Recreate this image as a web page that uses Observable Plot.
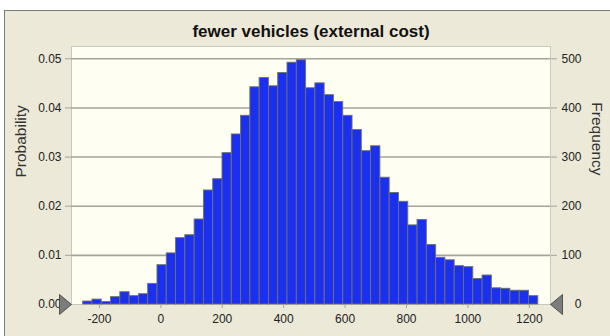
<!DOCTYPE html>
<html>
<head>
<meta charset="utf-8">
<script src="https://cdn.jsdelivr.net/npm/d3@7"></script>
<script src="https://cdn.jsdelivr.net/npm/@observablehq/plot@0.6"></script>
<style>
  html, body { margin: 0; padding: 0; background: #ffffff; }
  #panel { position: absolute; left: 4px; top: 10px; width: 620px; height: 340px;
           background: #ece9d8; border-left: 1px solid #7a7a78; border-top: 1px solid #7a7a78; }
  #chart { position: absolute; left: 0; top: 0; }
</style>
</head>
<body>
<div id="panel"></div>
<div id="chart"></div>
<script>
const title = "fewer vehicles (external cost)";
const leftLabel = "Probability";
const rightLabel = "Frequency";
const totalCount = 10000;
const binStart = -253;
const binWidth = 30.25;
const frequencies = [
  6, 10, 5, 15, 25, 17, 21, 42, 80, 104,
  135, 141, 173, 232, 255, 308, 346, 384, 442, 461,
  444, 471, 492, 497, 440, 450, 426, 412, 384, 355,
  312, 322, 258, 227, 209, 161, 172, 121, 95, 90,
  78, 76, 52, 59, 33, 32, 28, 28, 17
];
const xTicks = [-200, 0, 200, 400, 600, 800, 1000, 1200];
const yTicks = [0, 100, 200, 300, 400, 500];
const xDomain = [-291, 1269];
const yDomain = [0, 525];
const markerX = [-291, 1269];

const bins = frequencies.map((f, i) => ({
  x1: binStart + i * binWidth,
  x2: binStart + (i + 1) * binWidth,
  freq: f
}));

const triRight = { draw(ctx) { ctx.moveTo(-12, -10); ctx.lineTo(0, 0); ctx.lineTo(-12, 10); ctx.closePath(); } };
const triLeft  = { draw(ctx) { ctx.moveTo(12, -10); ctx.lineTo(0, 0); ctx.lineTo(12, 10); ctx.closePath(); } };

const chart = Plot.plot({
  width: 610,
  height: 336,
  marginLeft: 71,
  marginRight: 60,
  marginTop: 46,
  marginBottom: 32,
  style: { fontFamily: "'Liberation Sans', Arial, sans-serif", fontSize: "12px", background: "transparent", color: "#222" },
  x: { domain: xDomain },
  y: { domain: yDomain },
  marks: [
    Plot.frame({ fill: "#fefef3", stroke: "#c9c8bc" }),
    Plot.ruleY(yTicks.filter(d => d > 0), { stroke: "#a4a49c", strokeWidth: 1.6 }),
    Plot.rectY(bins, { x1: "x1", x2: "x2", y: "freq", fill: "#1b30ee", stroke: "#70706a", strokeWidth: 0.9 }),
    Plot.axisX({ ticks: xTicks, tickFormat: d => String(d), tickSize: 4, tickPadding: 6, stroke: "#a4a49c", label: null, fill: "#222" }),
    Plot.axisY({ anchor: "left", ticks: yTicks, tickFormat: d => (d / totalCount).toFixed(2), tickSize: 6, tickPadding: 4, stroke: "#a4a49c", label: null, fill: "#222" }),
    Plot.axisY({ anchor: "right", ticks: yTicks, tickFormat: d => String(d), tickSize: 6, tickPadding: 25, textAnchor: "end", stroke: "#a4a49c", label: null, fill: "#222" }),
    Plot.dot([markerX[0]], { x: d => d, y: 0, symbol: triRight, r: 6, fill: "#7c7c7c", stroke: "#3a3a3a", strokeWidth: 0.8 }),
    Plot.dot([markerX[1]], { x: d => d, y: 0, symbol: triLeft, r: 6, fill: "#7c7c7c", stroke: "#3a3a3a", strokeWidth: 0.8 }),
    Plot.text([title], { text: d => d, frameAnchor: "top", dy: -22, fontSize: 17, fontWeight: "bold", fill: "#111" }),
    Plot.text([leftLabel], { text: d => d, frameAnchor: "left", dx: -50, dy: 2, rotate: -90, fontSize: 15.5, fill: "#333" }),
    Plot.text([rightLabel], { text: d => d, frameAnchor: "right", dx: 46, rotate: 90, fontSize: 15.5, fill: "#333" })
  ]
});
document.getElementById("chart").appendChild(chart);
</script>
</body>
</html>
